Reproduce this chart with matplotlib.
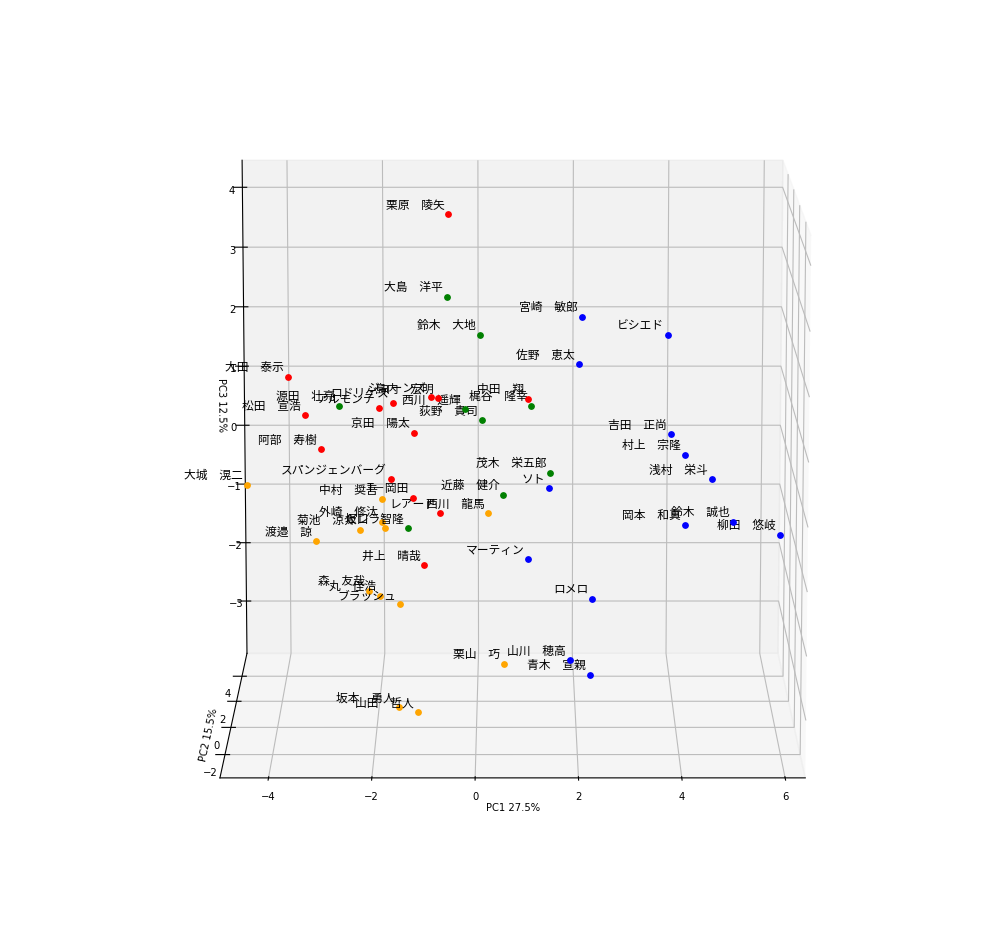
import matplotlib
matplotlib.use("Agg")
import matplotlib.pyplot as plt
from matplotlib.transforms import ScaledTranslation
from mpl_toolkits.mplot3d import Axes3D  # noqa: F401

JP_FONT = ["Noto Sans CJK JP", "DejaVu Sans"]
plt.rcParams["grid.color"] = "#bcbcbc"

# values; depth (PC2) can't be read, so all sit at 0
red_names = ["栗原　陵矢", "大田　泰示", "松田　宣浩", "阿部　寿樹", "アルモンテ", "ロドリゲス", "ジョーンズ",
             "島内　宏明", "中田　翔", "京田　陽太", "スパンジェンバーグ", "T－岡田", "レアード", "井上　晴哉"]
red_pc1 = [-0.54, -3.73, -3.41, -3.09, -1.92, -1.66, -0.90, -0.76, 1.04, -1.24, -1.70, -1.26, -0.72, -1.04]
red_pc3 = [4.31, 1.74, 1.13, 0.59, 1.24, 1.32, 1.42, 1.40, 1.39, 0.85, 0.11, -0.19, -0.44, -1.275]

green_names = ["源田　壮亮", "大島　洋平", "鈴木　大地", "西川　遥輝", "荻野　貴司", "梶谷　隆幸",
               "茂木　栄五郎", "近藤　健介", "坂口　智隆"]
green_pc1 = [-2.73, -0.58, 0.08, -0.22, 0.12, 1.10, 1.48, 0.54, -1.36]
green_pc3 = [1.28, 3.01, 2.41, 1.23, 1.05, 1.28, 0.21, -0.14, -0.68]

blue_names = ["宮崎　敏郎", "ビシエド", "佐野　恵太", "吉田　正尚", "村上　宗隆", "浅村　栄斗", "岡本　和真",
              "鈴木　誠也", "柳田　悠岐", "ソト", "マーティン", "ロメロ", "山川　穂高", "青木　宣親"]
blue_pc1 = [2.10, 3.81, 2.04, 3.87, 4.15, 4.69, 4.17, 5.13, 6.07, 1.46, 1.04, 2.32, 1.88, 2.28]
blue_pc3 = [2.69, 2.41, 1.94, 0.83, 0.50, 0.11, -0.62, -0.57, -0.78, -0.03, -1.175, -1.825, -2.805, -3.045]

orange_names = ["大城　滉二", "中村　奨吾", "西川　龍馬", "菊池　涼介", "外崎　修汰", "ピレラ", "渡邉　諒",
                "森　友哉", "丸　佳浩", "ブラッシュ", "栗山　巧", "坂本　勇人", "山田　哲人"]
orange_pc1 = [-4.57, -1.88, 0.24, -2.32, -1.88, -1.82, -3.21, -2.14, -1.92, -1.52, 0.56, -1.56, -1.18]
orange_pc3 = [0.02, -0.21, -0.44, -0.70, -0.57, -0.67, -0.89, -1.685, -1.765, -1.905, -2.865, -3.565, -3.645]

groups = [("red", red_names, red_pc1, red_pc3),
          ("green", green_names, green_pc1, green_pc3),
          ("blue", blue_names, blue_pc1, blue_pc3),
          ("orange", orange_names, orange_pc1, orange_pc3)]

W, H = 998, 936
fig = plt.figure(figsize=(W / 100, H / 100), dpi=100)
ax = fig.add_axes([-21.5 / W, -20.5 / H, 1040 / W, 973 / H], projection="3d")
# let the 3d box stretch with the rectangle instead of staying square
ax.apply_aspect = lambda position=None: None
ax.set_box_aspect((1, 1, 1), zoom=1 / 1.1002)
ax.view_init(elev=11, azim=-90.01)

ax.set_xlim(-4.94, 6.39)
ax.set_ylim(-3.65, 5.9)
ax.set_zlim(-3.9, 4.45)
ax.set_xticks([-4, -2, 0, 2, 4, 6])
ax.set_yticks([-2, 0, 2, 4])
ax.set_zticks([-3, -2, -1, 0, 1, 2, 3, 4])
ax.tick_params(labelsize=7.2, pad=0)
ax.tick_params(axis="y", pad=2)

label_shift = ax.transData + ScaledTranslation(-0.04, 0.09, fig.dpi_scale_trans)
for color, names, pc1, pc3 in groups:
    ax.scatter(pc1, [0] * len(pc1), pc3, c=color, s=15, depthshade=False)
    for name, x, z in zip(names, pc1, pc3):
        ax.text(x, 0, z, name, ha="right", va="center", fontsize=8.5,
                family=JP_FONT, transform=label_shift)

ax.set_xlabel("PC1 27.5%", fontsize=7.2, labelpad=-4)
ax.set_ylabel("PC2 15.5%", fontsize=7.2, labelpad=-4)
ax.set_zlabel("PC3 12.5%", fontsize=7.2, labelpad=-4)

fig.savefig("out.png", dpi=100)
